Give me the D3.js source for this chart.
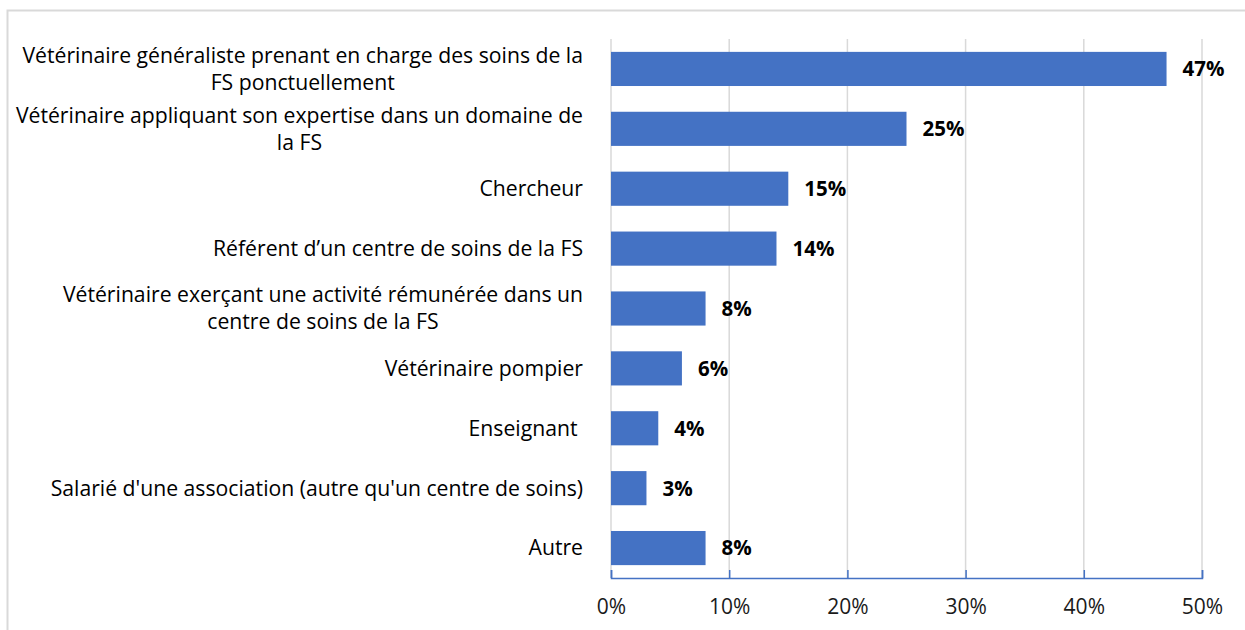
<!DOCTYPE html>
<html>
<head>
<meta charset="utf-8">
<script src="https://cdn.jsdelivr.net/npm/d3@7"></script>
<style>
  body { margin: 0; background: #fff; }
  text { font-family: "Open Sans", Lato, sans-serif; white-space: pre; }
</style>
</head>
<body>
<svg width="1245" height="630"></svg>
<script>
// category labels, already split into the lines shown in the chart
var categories = [
  ["Vétérinaire généraliste prenant en charge des soins de la", "FS ponctuellement"],
  ["Vétérinaire appliquant son expertise dans un domaine de", "la FS"],
  ["Chercheur"],
  ["Référent d’un centre de soins de la FS"],
  ["Vétérinaire exerçant une activité rémunérée dans un", "centre de soins de la FS"],
  ["Vétérinaire pompier"],
  ["Enseignant "],
  ["Salarié d'une association (autre qu'un centre de soins)"],
  ["Autre"]
];
var values = [47, 25, 15, 14, 8, 6, 4, 3, 8];
var ticks = [0, 10, 20, 30, 40, 50];

var svg = d3.select("svg");

// outer frame (only top and left edges visible)
svg.append("path")
    .attr("d", "M7.5,630 V10.5 H1245")
    .attr("fill", "none")
    .attr("stroke", "#d9d9d9")
    .attr("stroke-width", 2);

var plotLeft = 611, plotRight = 1202, plotTop = 39, plotBottom = 578;

var x = d3.scaleLinear().domain([0, 50]).range([plotLeft, plotRight]);
var y = d3.scaleBand()
    .domain(d3.range(categories.length))
    .range([plotTop, plotBottom])
    .paddingInner(0.43)
    .paddingOuter(0.215);

// gridlines
svg.append("g")
  .selectAll("line")
  .data(ticks)
  .enter().append("line")
    .attr("x1", function(d) { return x(d); })
    .attr("x2", function(d) { return x(d); })
    .attr("y1", plotTop)
    .attr("y2", plotBottom)
    .attr("stroke", "#d9d9d9")
    .attr("stroke-width", 1.5);

// bars
svg.append("g")
  .selectAll("rect")
  .data(values)
  .enter().append("rect")
    .attr("x", x(0))
    .attr("y", function(d, i) { return y(i); })
    .attr("width", function(d) { return x(d) - x(0); })
    .attr("height", y.bandwidth())
    .attr("fill", "#4472c4");

// value labels
svg.append("g")
  .selectAll("text")
  .data(values)
  .enter().append("text")
    .attr("x", function(d) { return x(d) + 16; })
    .attr("y", function(d, i) { return y(i) + y.bandwidth() / 2; })
    .attr("dy", "0.36em")
    .attr("font-size", 20.5)
    .attr("font-weight", "bold")
    .attr("fill", "#000")
    .text(function(d) { return d + "%"; });

// x axis, ticks pointing inward
var xAxis = svg.append("g")
    .attr("transform", "translate(0," + plotBottom + ")")
    .call(d3.axisBottom(x).tickValues(ticks).tickSizeInner(-8).tickSizeOuter(-8)
      .tickFormat(function(d) { return d + "%"; }));
xAxis.select(".domain").attr("stroke", "#4472c4").attr("stroke-width", 1.5);
xAxis.selectAll(".tick line").attr("stroke", "#4472c4").attr("stroke-width", 1.5);
xAxis.selectAll(".tick text")
    .attr("y", 29)
    .attr("dy", "0.35em")
    .attr("font-size", 21)
    .attr("fill", "#1a1a1a");

// category labels: block right-aligned, lines centred within the block
var labelRight = 583, lineH = 27;
var catG = svg.append("g");
categories.forEach(function(lines, i) {
  var cy = y(i) + y.bandwidth() / 2;
  var t = catG.append("text")
      .attr("font-size", 21.2)
      .attr("fill", "#000")
      .attr("text-anchor", "middle");
  var spans = t.selectAll("tspan")
    .data(lines)
    .enter().append("tspan")
      .attr("y", function(d, k) { return cy + (k - (lines.length - 1) / 2) * lineH; })
      .attr("dy", "0.35em")
      .text(function(d) { return d; });
  var w = 0;
  spans.each(function() { w = Math.max(w, this.getComputedTextLength()); });
  spans.attr("x", labelRight - w / 2);
});
</script>
</body>
</html>
